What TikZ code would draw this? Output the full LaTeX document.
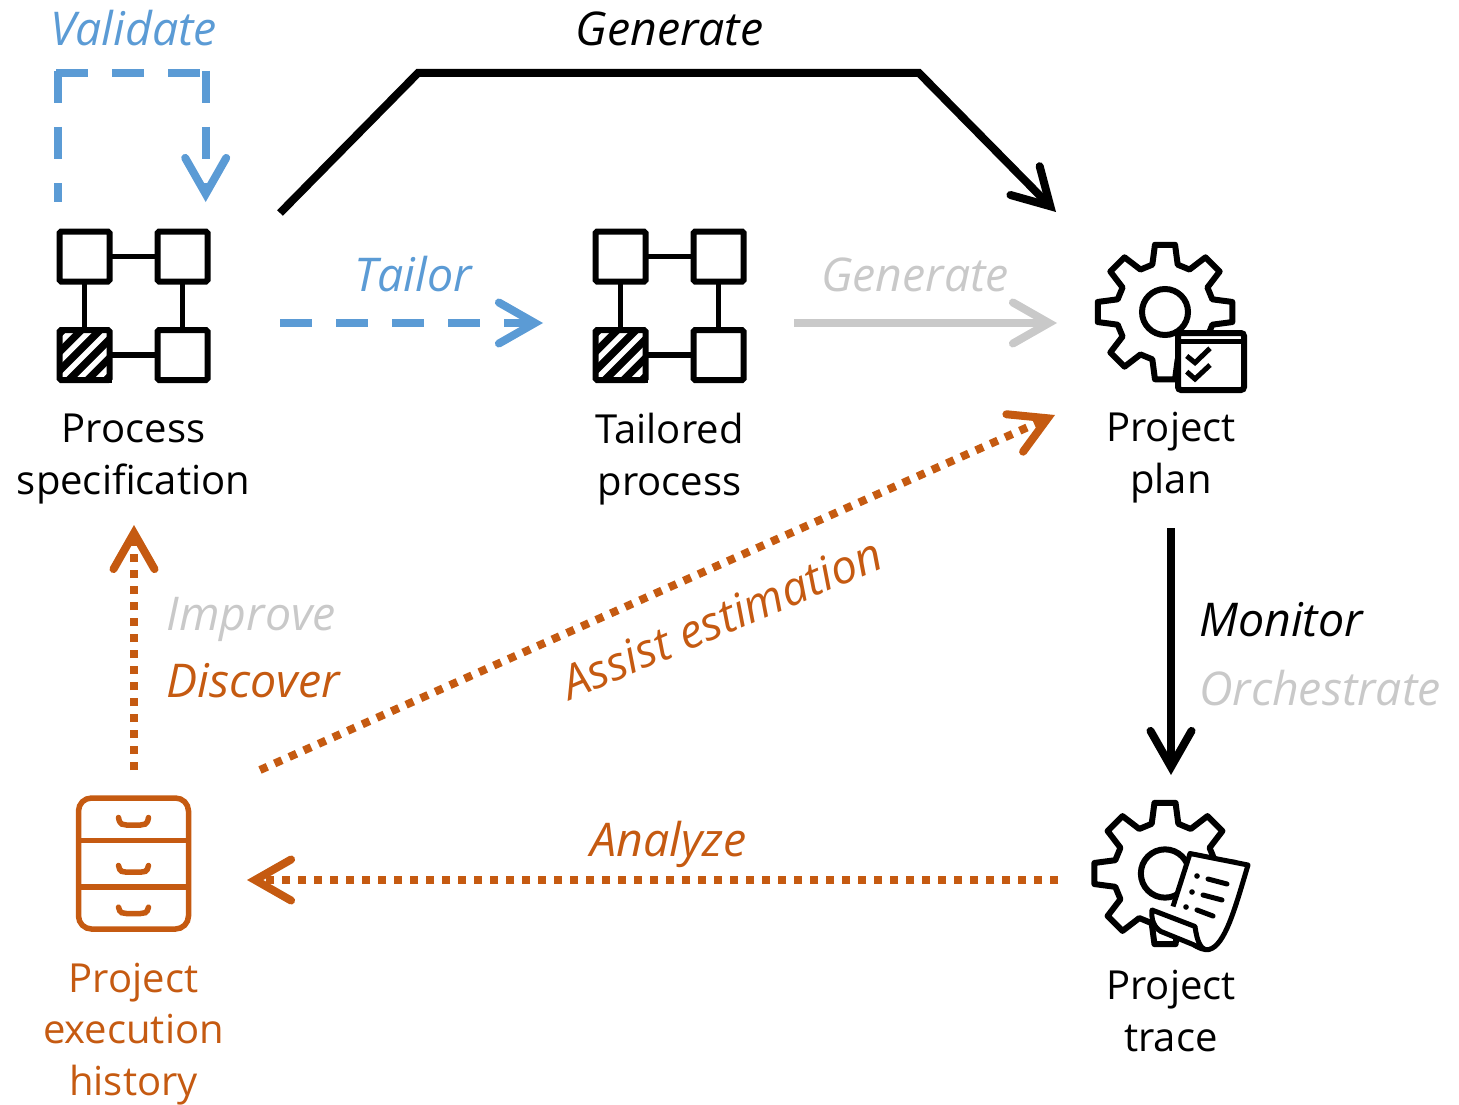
\documentclass[tikz,border=0pt]{standalone}
\usepackage{fontspec}
\setmainfont{Open Sans}
\usetikzlibrary{arrows.meta,positioning}

\definecolor{tailorblue}{HTML}{5B9BD5}
\definecolor{minedorange}{HTML}{C55A11}
\definecolor{fadedgrey}{HTML}{C9C9C9}

\tikzset{
    iconbox/.style={inner sep=0pt,outer sep=0pt,minimum size=#1},
    procbox/.style={rectangle,draw=black,line width=6pt,rounded corners=1.5pt,fill=white,inner sep=0pt,outer sep=0pt,minimum size=50pt},
    lbl/.style={font=\fontsize{40}{51.5}\selectfont,align=center,inner sep=0pt},
    verb/.style={font=\fontsize{46.5}{51.5}\selectfont\itshape,inner sep=0pt},
    barb/.style={-{Straight Barb[length=36pt,width=41pt,line width=8pt,line cap=round]},line width=8pt},
    dashline/.style={line width=8pt,tailorblue,dash pattern=on 32pt off 24pt},
    dotline/.style={minedorange,dash pattern=on 8pt off 8pt},
    procicon/.pic={
        \fill[black] (-76,22) rectangle (-22,76.5);
        \begin{scope}
            \clip (-76,22) rectangle (-22,76.5);
            \foreach \d in {-37.3,-18.65,0,18.65,37.3}
                \draw[white,line width=5.5pt] (-79,78.5+\d) -- (-19,18.5+\d);
        \end{scope}
        \node[procbox] (-tl) at (-49,-50) {};
        \node[procbox] (-tr) at (49,-50) {};
        \node[procbox,fill=none] (-bl) at (-49,48.5) {};
        \node[procbox] (-br) at (49,48.5) {};
        \draw[line width=5.5pt] (-tl) -- (-tr);
        \draw[line width=5.5pt] (-tl) -- (-bl);
        \draw[line width=5.5pt] (-tr) -- (-br);
        \draw[line width=5.5pt] (-bl) -- (-br);
    },
    gearicon/.pic={
        \draw[line width=6pt,line join=round] (-15:49)
            \foreach \a in {0,45,...,315} {
                -- (\a-15:49) -- (\a-8.5:68) -- (\a+8.5:68) -- (\a+15:49)
            } -- cycle;
        \draw[line width=6pt] (0,0) circle (23);
    },
    checkicon/.pic={
        \draw[line width=6pt,fill=white,rounded corners=3pt] (13,21) rectangle (79,78);
        \draw[line width=5pt] (13,29) -- (79,29);
        \draw[line width=5pt] (21.7,44) -- (30,50.7) -- (45,36.3);
        \draw[line width=5pt] (21.7,59.7) -- (30,67) -- (45,53);
    },
    papericon/.pic={
        \fill[white] (25,-20) -- (83,-8.5) .. controls (70,35) and (60,72) .. (44,76)
            -- (-6,58) -- (-13,36.5) -- (8,33) -- cycle;
        \draw[line width=5pt,line join=round] (8,33) -- (25,-20) -- (83,-8.5)
            .. controls (70,35) and (60,72) .. (44,76)
            .. controls (36,78) and (32,68) .. (30,53) -- (-13,36.5)
            .. controls (-14,46) and (-11,54) .. (-4,58) -- (28,71) .. controls (33,74) and (39,77) .. (44,76);
        \fill (32,2.5) circle (2.8);
        \fill (27,18.5) circle (2.8);
        \fill (21,33.5) circle (2.8);
        \draw[line width=5pt,line cap=round] (43,5.5) -- (62,10.5);
        \draw[line width=5pt,line cap=round] (38,21.5) -- (57,26.5);
        \draw[line width=5pt,line cap=round] (32,36.5) -- (48,42.5);
    },
    cabinet/.pic={
        \draw[minedorange,line width=5.5pt,rounded corners=13pt] (-55,-65.5) rectangle (55,65.5);
        \draw[minedorange,line width=5.5pt] (-55,-23) -- (55,-23);
        \draw[minedorange,line width=5.5pt] (-55,23.7) -- (55,23.7);
        \foreach \t/\b in {-46/-38.5,2/8.7,43.7/50}
            \draw[minedorange,line width=5.5pt,line cap=round] (-15,\t) .. controls (-14,\b) and (-10,\b) .. (-7,\b)
                -- (7,\b) .. controls (10,\b) and (14,\b) .. (15,\t);
    }
}

\begin{document}
\begin{tikzpicture}[x=1pt,y=-1pt]
    \useasboundingbox (0,0) rectangle (1459,1105);

    % icons
    \node[iconbox=153pt] (spec) at (133.5,306.5) {};
    \node[iconbox=153pt] (tailored) [right=383pt of spec] {};
    \node[iconbox=136pt] (plan) at (1165,312) {};
    \node[iconbox=143pt] (trace) at (1165,873.5) {};
    \node[iconbox=136pt] (hist) at (133.5,863.5) {};
    \pic (specicon) at (spec) {procicon};
    \pic (tailoredicon) at (tailored) {procicon};
    \pic at (plan) {gearicon};
    \pic at (plan) {checkicon};
    \pic[scale=1.05] at (trace) {gearicon};
    \pic at (trace) {papericon};
    \pic at (hist) {cabinet};

    % artifact names
    \node[lbl] (speclabel) [below=31pt of spec] {Process\\specification};
    \node[lbl] (tailoredlabel) [below=30pt of tailored] {Tailored\\process};
    \node[lbl] (planlabel) [below=32pt of plan,xshift=6pt] {Project\\plan};
    \node[lbl] (tracelabel) [below=25pt of trace,xshift=6pt] {Project\\trace};
    \node[lbl,text=minedorange] (histlabel) [below=31pt of hist] {Project\\execution\\history};

    % activities
    \node[verb,text=tailorblue] (validatelabel) [above=184pt of spec] {Validate};
    \node[verb] (generatelabel) [above=184pt of tailored] {Generate};
    \node[verb,text=tailorblue] (tailorlabel) [above right=14pt and 144pt of spec.east,anchor=south west] {Tailor};
    \node[verb,text=fadedgrey] (replanlabel) [above right=14pt and 75pt of tailored.east,anchor=south west] {Generate};
    \node[verb,text=fadedgrey] (improvelabel) [above right=176pt and 33pt of hist.north,anchor=west] {Improve};
    \node[verb,text=minedorange] (discoverlabel) [below=61pt of improvelabel.west,anchor=west] {Discover};
    \node[verb] (monitorlabel) [below right=240pt and 34pt of plan.south,anchor=west] {Monitor};
    \node[verb,text=fadedgrey] (orchestratelabel) [below=68pt of monitorlabel.west,anchor=west] {Orchestrate};
    \node[verb,text=minedorange] (analyzelabel) [above left=6pt and 425pt of trace.west,anchor=south] {Analyze};
    \node[verb,text=minedorange,rotate=23] (assistlabel) at (722,618) {Assist estimation};

    % connectors
    \coordinate (loopleft) at ([shift={(-75.5,-157)}]spec.north);
    \coordinate (loopright) at ([shift={(72.2,-157)}]spec.north);
    \draw[barb] ([shift={(70,-17)}]spec.north east) -- ++(138,-140) -- ++(501,0) -- ([shift={(-41,-32)}]plan.north west);
    \draw[dashline] ([yshift=2pt]loopleft) -- ([shift={(-75.5,-28)}]spec.north);
    \draw[dashline] ([xshift=-2pt]loopleft) -- (loopright);
    \draw[barb,dashline] ([yshift=2pt]loopright) -- ([shift={(72.2,-28)}]spec.north);
    \draw[barb,dashline] ([shift={(70,16.5)}]spec.east) -- ([shift={(-50,16.5)}]tailored.west);
    \draw[barb,fadedgrey] ([shift={(48,16.5)}]tailored.east) -- ([shift={(-40,11)}]plan.west);
    \draw[barb] ([shift={(6,148)}]plan.south) -- ([shift={(6,-27)}]trace.north);
    \draw[barb,dotline] ([shift={(-35.5,6.5)}]trace.west) -- ([shift={(45.5,16.5)}]hist.east);
    \draw[barb,dotline] ([shift={(.5,-25.5)}]hist.north) -- ([shift={(.5,142)}]spec.south);
    \draw[barb,dotline] ([shift={(58.5,-25.5)}]hist.north east) -- ([shift={(-42,35)}]plan.south west);
\end{tikzpicture}
\end{document}
